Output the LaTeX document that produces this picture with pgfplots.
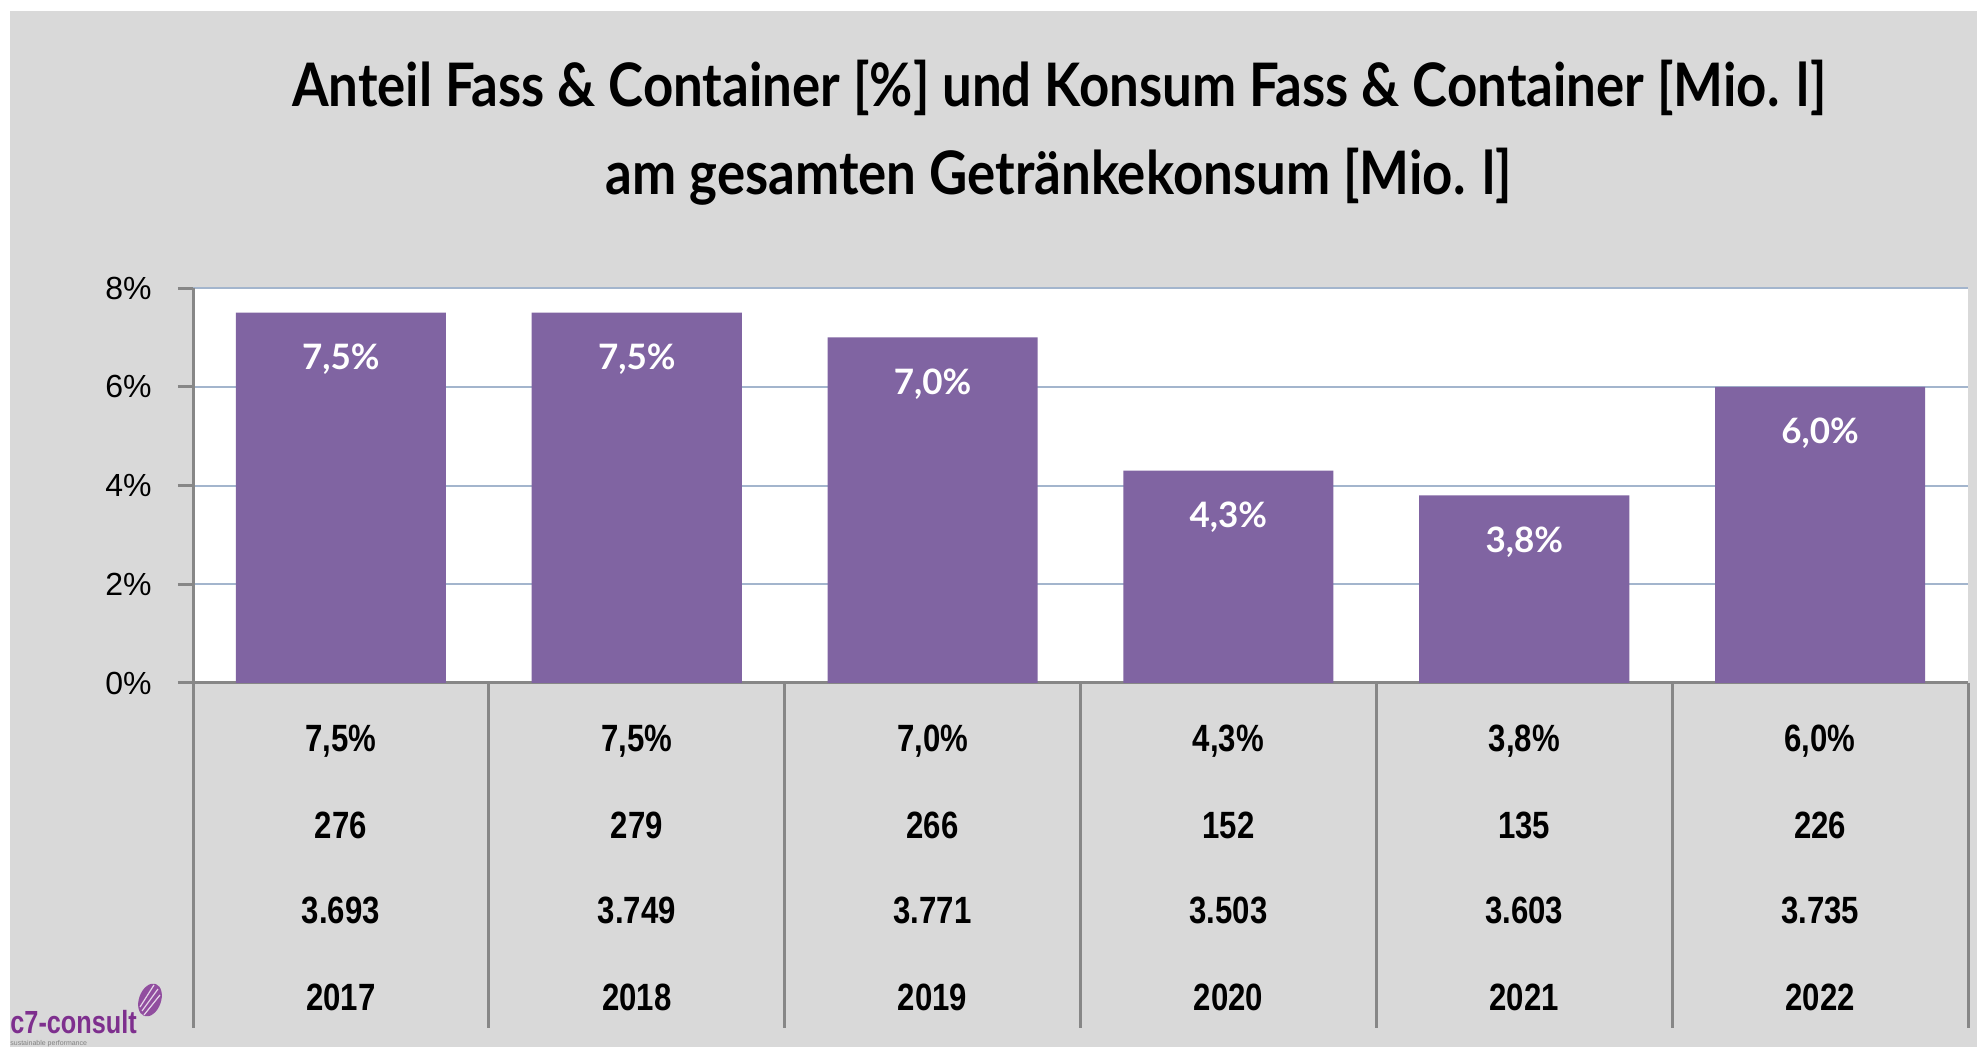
\documentclass[border=0pt]{standalone}
\usepackage{pgfplots}
\pgfplotsset{compat=1.18}
\usepackage{pgfplotstable}
\usepackage{fontspec}
\setmainfont{Liberation Sans}
\newfontfamily\titlefont[FakeStretch=0.88]{Lato}
\newfontfamily\labelfont{Lato}
\newfontfamily\narrowfont[FakeStretch=0.82]{Liberation Sans}
\newfontfamily\logofont[FakeStretch=0.79]{Liberation Sans}
\definecolor{bgc}{HTML}{D9D9D9}
\definecolor{barc}{HTML}{8064A2}
\definecolor{gridc}{HTML}{A3B5CD}
\definecolor{axc}{HTML}{878787}
\definecolor{logoc}{HTML}{7E2F8E}

\pgfplotstableread{
x share vol total year
0 7.5 276 3693 2017
1 7.5 279 3749 2018
2 7.0 266 3771 2019
3 4.3 152 3503 2020
4 3.8 135 3603 2021
5 6.0 226 3735 2022
}\data

\begin{document}
\begin{tikzpicture}
\fill[white] (0,0) rectangle (988.5bp,523.5bp);
\fill[bgc] (5bp,0) rectangle (988.5bp,518bp);
% title
\node[anchor=base, font=\titlefont\bfseries\fontsize{30bp}{30bp}\selectfont] at (529.5bp,470bp)
  {Anteil Fass \& Container [\%] und Konsum Fass \& Container [Mio. l]};
\node[anchor=base, font=\titlefont\bfseries\fontsize{30bp}{30bp}\selectfont] at (529.5bp,426bp)
  {am gesamten Getränkekonsum [Mio. l]};
% logo
\node[anchor=base west, inner sep=0pt, text=logoc, font=\logofont\bfseries\fontsize{16bp}{16bp}\selectfont] at (5bp,7bp) {c7-consult};
\node[anchor=base west, inner sep=0pt, text=gray, font=\fontsize{3.5bp}{3.5bp}\selectfont] at (5bp,1bp) {sustainable performance};
\fill[logoc!85] (75bp,23.5bp) ellipse [x radius=5.5bp, y radius=8.5bp, rotate=-20];
\draw[white!80!logoc, line width=0.6bp] (70bp,20bp) -- (77bp,31bp);
\draw[white!80!logoc, line width=0.6bp] (71bp,18bp) -- (79bp,29bp);
\draw[white!80!logoc, line width=0.6bp] (72bp,16bp) -- (80bp,26bp);

\begin{axis}[
  at={(96.5bp,182bp)}, anchor=south west,
  scale only axis, width=887.5bp, height=197.5bp,
  xmin=-0.5, xmax=5.5, ymin=0, ymax=8,
  clip=false,
  axis background/.style={fill=white},
  separate axis lines,
  axis x line*=bottom, axis y line*=left,
  x axis line style={-, draw=axc, line width=1.5bp},
  y axis line style={-, draw=axc, line width=1.5bp},
  xtick=\empty,
  ytick={0,2,4,6,8},
  ymajorgrids,
  major grid style={draw=gridc, line width=1bp},
  tick align=outside,
  major tick length=7.5bp,
  ytick style={draw=axc, line width=1.5bp},
  /pgf/number format/assume math mode=true,
  yticklabel={\pgfmathprintnumber{\tick}\%},
  yticklabel style={font=\fontsize{16bp}{16bp}\selectfont, anchor=east, inner sep=0pt, xshift=-13bp},
]
\addplot[ybar, fill=barc, draw=none, bar width=0.71,
  point meta=y,
  nodes near coords={\pgfmathprintnumber[fixed,fixed zerofill,precision=1,use comma]{\pgfplotspointmeta}\%},
  every node near coord/.append style={anchor=base, yshift=-28.5bp, text=white, inner sep=0pt,
     font=\labelfont\bfseries\fontsize{17.5bp}{17.5bp}\selectfont},
] table[x=x, y=share] {\data};

\addplot[draw=none, mark=none, point meta=explicit,
  nodes near coords={\pgfmathprintnumber[fixed,fixed zerofill,precision=1,use comma]{\pgfplotspointmeta}\%},
  every node near coord/.append style={anchor=base, inner sep=0pt, font=\narrowfont\bfseries\fontsize{19bp}{19bp}\selectfont},
] table[x=x, y expr=-1.38, meta=share] {\data};
\addplot[draw=none, mark=none, point meta=explicit,
  nodes near coords={\pgfmathprintnumber[fixed,precision=0,1000 sep={}]{\pgfplotspointmeta}},
  every node near coord/.append style={anchor=base, inner sep=0pt, font=\narrowfont\bfseries\fontsize{19bp}{19bp}\selectfont},
] table[x=x, y expr=-3.14, meta=vol] {\data};
\addplot[draw=none, mark=none, point meta=explicit,
  nodes near coords={\pgfmathprintnumber[fixed,precision=0,1000 sep={.}]{\pgfplotspointmeta}},
  every node near coord/.append style={anchor=base, inner sep=0pt, font=\narrowfont\bfseries\fontsize{19bp}{19bp}\selectfont},
] table[x=x, y expr=-4.88, meta=total] {\data};
\addplot[draw=none, mark=none, point meta=explicit,
  nodes near coords={\pgfmathprintnumber[fixed,precision=0,1000 sep={}]{\pgfplotspointmeta}},
  every node near coord/.append style={anchor=base, inner sep=0pt, font=\narrowfont\bfseries\fontsize{19bp}{19bp}\selectfont},
] table[x=x, y expr=-6.63, meta=year] {\data};

\pgfplotsinvokeforeach{-0.5,0.5,1.5,2.5,3.5,4.5,5.5}{
  \draw[axc, line width=1.5bp] (axis cs:#1,0) -- (axis cs:#1,-6.99);
}
\end{axis}
\end{tikzpicture}
\end{document}
